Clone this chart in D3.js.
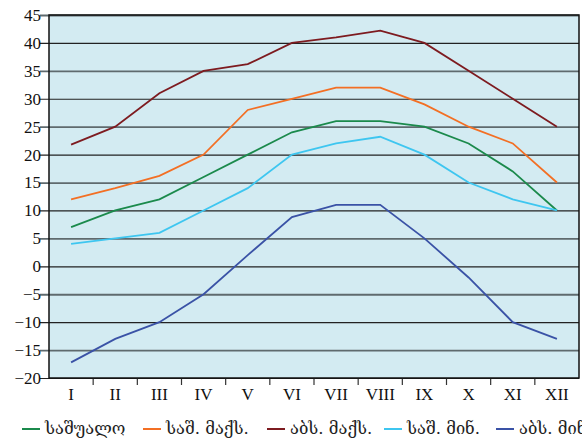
<!DOCTYPE html>
<html>
<head>
<meta charset="utf-8">
<script src="https://d3js.org/d3.v7.min.js"></script>
<style type="text/css">
body { margin:0; background:#fff; }
</style>
</head>
<body>
<svg id="chart"></svg>
<script>
var width = 582, height = 444;
var margin = {top: 15, right: 2, bottom: 66, left: 49};

// months and series
var months = ["I","II","III","IV","V","VI","VII","VIII","IX","X","XI","XII"];
var yTicks = [45,40,35,30,25,20,15,10,5,0,-5,-10,-15,-20];
var seriesNames = ["საშუალო", "საშ. მაქს.", "აბს. მაქს.", "საშ. მინ.", "აბს. მინ."];
var seriesColors = ["#1b8a4c", "#f36f24", "#7d1b20", "#3ec6f0", "#3a52a6"];
var avgTemp = [7, 10, 12, 16, 20, 24, 26, 26, 25, 22, 17, 10];
var meanMax = [12, 14, 16.2, 20, 28, 30, 32, 32, 29, 25, 22, 15];
var absMax  = [21.8, 25, 31, 35, 36.2, 40, 41, 42.2, 40, 35, 30, 25];
var meanMin = [4, 5, 6, 10, 14, 20, 22, 23.2, 20, 15, 12, 10];
var absMin  = [-17.2, -13, -10, -5, 2, 8.8, 11, 11, 5, -2, -10, -13];
var allSeries = [avgTemp, meanMax, absMax, meanMin, absMin];

var svg = d3.select("#chart")
  .attr("width", width)
  .attr("height", height);

var plotW = width - margin.left - margin.right,
    plotH = 378 - margin.top;

var x = d3.scaleBand()
  .domain(months)
  .range([margin.left, margin.left + plotW - 1]);

var y = d3.scaleLinear()
  .domain([-20, 45])
  .range([margin.top + plotH, margin.top]);

// plot background
svg.append("rect")
  .attr("x", margin.left)
  .attr("y", margin.top)
  .attr("width", plotW - 1)
  .attr("height", plotH)
  .style("fill", "#d3ebf2");

// horizontal grid + y ticks
var yAxis = svg.append("g")
  .attr("transform", "translate(" + margin.left + ",0)")
  .call(d3.axisLeft(y).tickValues(yTicks).tickSize(-(plotW - 1)).tickPadding(8).tickSizeOuter(0));
yAxis.select(".domain").remove();
yAxis.selectAll(".tick line")
  .attr("x1", -9)
  .style("stroke", function(d, i) { return i % 2 ? "#222" : "#5f6a6e"; })
  .style("stroke-width", function(d, i) { return i % 2 ? 1.2 : 1.8; });

// x axis
var xAxis = svg.append("g")
  .attr("transform", "translate(0," + (margin.top + plotH) + ")")
  .call(d3.axisBottom(x).tickSize(0).tickPadding(10));
xAxis.select(".domain").remove();

svg.selectAll(".tick text")
  .style("font-family", "'Liberation Serif', 'Times New Roman', serif")
  .style("font-size", "17px")
  .style("fill", "#111");

// x ticks between categories
svg.append("g").selectAll("line")
  .data(months.slice(1))
  .enter().append("line")
  .attr("x1", function(d) { return x(d); })
  .attr("x2", function(d) { return x(d); })
  .attr("y1", margin.top + plotH)
  .attr("y2", margin.top + plotH + 7)
  .style("stroke", "#333")
  .style("stroke-width", 1.2);

// frame
svg.append("rect")
  .attr("x", margin.left)
  .attr("y", margin.top)
  .attr("width", plotW - 1)
  .attr("height", plotH)
  .style("fill", "none")
  .style("stroke", "#111")
  .style("stroke-width", 1.5);

// lines
var line = d3.line()
  .x(function(d, i) { return x(months[i]) + x.bandwidth() / 2; })
  .y(function(d) { return y(d); });

svg.append("g").selectAll("path")
  .data(allSeries)
  .enter().append("path")
  .attr("d", line)
  .style("fill", "none")
  .style("stroke", function(d, i) { return seriesColors[i]; })
  .style("stroke-width", 1.8);

// legend
var legendX = [22, 143, 267, 384, 496];
var legend = svg.append("g");
var item = legend.selectAll("g")
  .data(seriesNames)
  .enter().append("g")
  .attr("transform", function(d, i) { return "translate(" + legendX[i] + ",429)"; });
item.append("line")
  .attr("x1", 0).attr("x2", 18)
  .style("stroke", function(d, i) { return seriesColors[i]; })
  .style("stroke-width", 2);
item.append("text")
  .attr("x", 23)
  .attr("y", 5)
  .style("font-family", "'DejaVu Serif', 'DejaVu Sans', serif")
  .style("font-size", "16.5px")
  .style("fill", "#222")
  .text(function(d) { return d; });
</script>
</body>
</html>
